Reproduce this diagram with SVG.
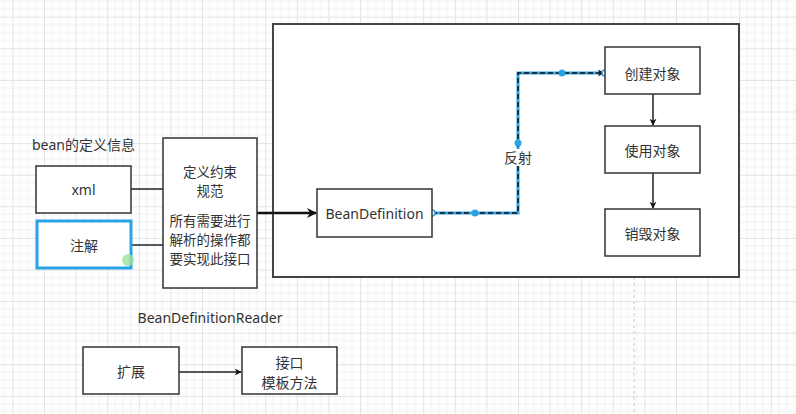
<svg xmlns="http://www.w3.org/2000/svg" width="796" height="414" viewBox="0 0 796 414">
<style>
.box{fill:#fff;stroke:#333;stroke-width:1.5}
.t{font-family:"Noto Sans","Noto Sans CJK SC",sans-serif;font-size:14px;fill:#333;text-anchor:middle;dominant-baseline:central}
.s{font-size:13.5px}
.ln{fill:none;stroke:#222;stroke-width:1.5}
</style>
<defs>
<pattern id="grid" patternUnits="userSpaceOnUse" x="12.4" y="16.7" width="31.6" height="31.6">
<path d="M7.9 0V31.6M15.8 0V31.6M23.7 0V31.6M0 7.9H31.6M0 15.8H31.6M0 23.7H31.6" stroke="#f2f2f2" stroke-width="1" fill="none"/>
<path d="M0.5 0V31.6M0 0.5H31.6" stroke="#e3e3e3" stroke-width="1" fill="none"/>
</pattern>
<marker id="arr" viewBox="0 0 10 10" refX="9" refY="5" markerWidth="7" markerHeight="7" orient="auto" markerUnits="userSpaceOnUse">
<path d="M0 0L10 5L0 10L3 5Z" fill="#111"/>
</marker>
<marker id="arrB" viewBox="0 0 10 10" refX="9" refY="5" markerWidth="10" markerHeight="10" orient="auto" markerUnits="userSpaceOnUse">
<path d="M0 0L10 5L0 10L3 5Z" fill="#111"/>
</marker>
</defs>
<rect width="796" height="414" fill="#fff"/>
<rect width="796" height="414" fill="url(#grid)"/>
<line x1="634" y1="277" x2="634" y2="414" stroke="#c8c8c8" stroke-width="1" stroke-dasharray="3 3"/>

<g id="container"><rect x="273" y="24" width="466" height="253" fill="#fff" stroke="#444" stroke-width="2"/></g>

<g id="label-bean"><text class="t" x="32" y="144" style="text-anchor:start">bean的定义信息</text></g>

<g id="connectors">
<line class="ln" x1="131" y1="189" x2="163" y2="189"/>
<line class="ln" x1="131" y1="245" x2="163" y2="245"/>
<line x1="257" y1="213" x2="316" y2="213" stroke="#111" stroke-width="2.5" marker-end="url(#arrB)"/>
<path d="M432 213H518V73H604" fill="none" stroke="#29a3e6" stroke-width="3"/>
<path d="M432 213H518V73H604" fill="none" stroke="#111" stroke-width="1.5" stroke-dasharray="5 3" marker-end="url(#arr)"/>
<circle cx="475" cy="213" r="3.5" fill="#29a3e6"/>
<circle cx="518" cy="143" r="3.5" fill="#29a3e6"/>
<circle cx="562" cy="73" r="3.5" fill="#29a3e6"/>
<circle cx="432" cy="213" r="3" fill="#fff" stroke="#29a3e6" stroke-width="1.5"/>
<circle cx="605" cy="73" r="3" fill="#fff" stroke="#29a3e6" stroke-width="1.5"/>
<rect x="503" y="149" width="30" height="17" fill="#fff"/>
<text class="t" x="518" y="157">反射</text>
<line class="ln" x1="653" y1="94" x2="653" y2="125" marker-end="url(#arr)"/>
<line class="ln" x1="653" y1="173" x2="653" y2="208" marker-end="url(#arr)"/>
<line class="ln" x1="179" y1="372" x2="241" y2="372" marker-end="url(#arr)"/>
</g>

<g id="xml"><rect class="box" x="36" y="166" width="95" height="47"/><text class="t" x="83.5" y="189.5">xml</text></g>
<g id="annotation"><rect x="37" y="221" width="94" height="47" fill="#fff" stroke="#29a3e6" stroke-width="3"/><text class="t" x="84" y="245">注解</text>
<circle cx="128" cy="260" r="6" fill="#9be39b" opacity="0.8"/></g>
<g id="reader"><rect class="box" x="163" y="138" width="94" height="150"/>
<text class="t s" x="210" y="172">定义约束</text>
<text class="t s" x="210" y="191">规范</text>
<text class="t s" x="210" y="221">所有需要进行</text>
<text class="t s" x="210" y="240">解析的操作都</text>
<text class="t s" x="210" y="259">要实现此接口</text></g>
<g id="beandef"><rect class="box" x="317" y="189" width="115" height="48"/><text class="t" x="374.5" y="213.5">BeanDefinition</text></g>
<g id="create"><rect class="box" x="605" y="47" width="95" height="47"/><text class="t" x="652.5" y="73">创建对象</text></g>
<g id="use"><rect class="box" x="605" y="126" width="95" height="47"/><text class="t" x="652.5" y="150">使用对象</text></g>
<g id="destroy"><rect class="box" x="605" y="209" width="95" height="47"/><text class="t" x="652.5" y="233">销毁对象</text></g>
<g id="label-reader"><text class="t" x="210" y="317">BeanDefinitionReader</text></g>
<g id="extend"><rect class="box" x="83" y="347" width="96" height="47"/><text class="t" x="131" y="371">扩展</text></g>
<g id="template"><rect class="box" x="242" y="347" width="95" height="47"/><text class="t" x="289.5" y="362">接口</text><text class="t" x="289.5" y="382">模板方法</text></g>
</svg>
